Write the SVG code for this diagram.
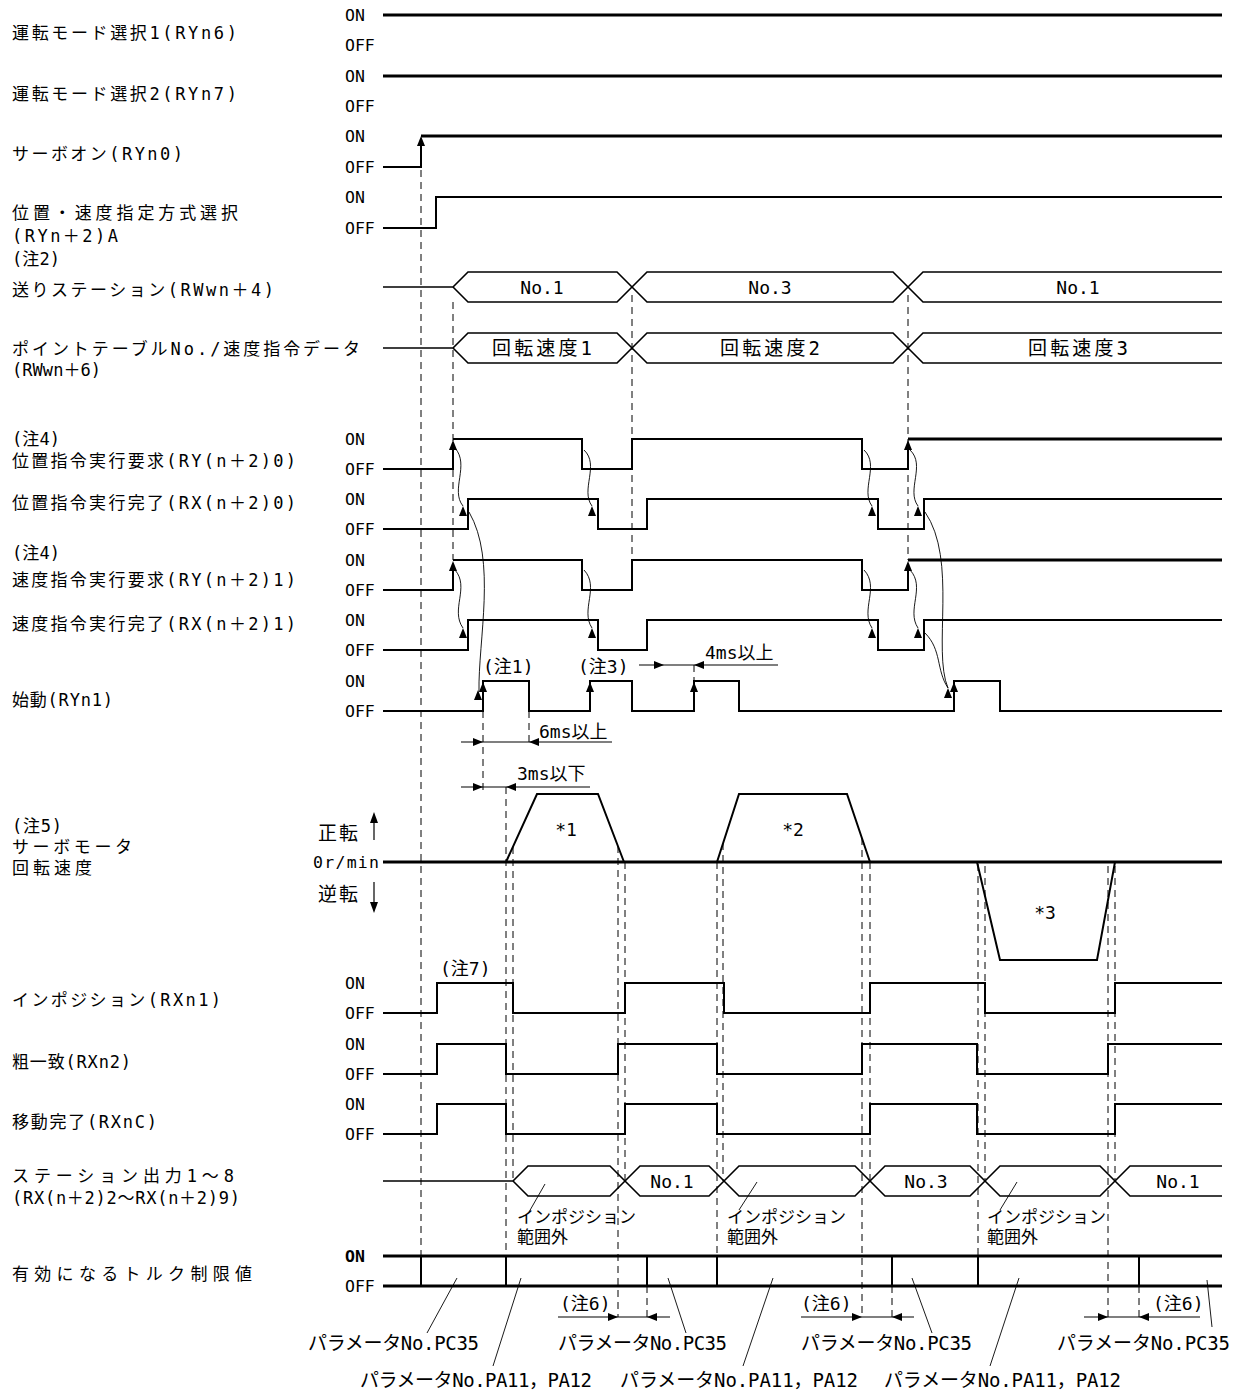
<svg xmlns="http://www.w3.org/2000/svg" width="1235" height="1392" viewBox="0 0 1235 1392">
<defs>
<style>
text { font-family: "DejaVu Sans Mono","Noto Sans CJK JP",monospace; fill:#000; dominant-baseline:central; }
.lbl { font-size:17px; }
.oo { font-size:16.5px; }
.mid { font-size:18px; }
.big { font-size:19px; }
.sm { font-size:17px; }
.w { fill:none; stroke:#000; stroke-width:2; }
.tk { fill:none; stroke:#000; stroke-width:3; }
.bus { fill:none; stroke:#000; stroke-width:1.6; }
.d { fill:none; stroke:#000; stroke-width:1; stroke-dasharray:7 5; }
.c { fill:none; stroke:#000; stroke-width:0.9; }
.dim { fill:none; stroke:#000; stroke-width:1.2; }
.ld { fill:none; stroke:#000; stroke-width:0.9; }
</style>
<path id="tri" d="M0,0 L4,10 L-4,10 Z"/>
<path id="ar" d="M0,0 L-10,-4 L-10,4 Z"/>
<path id="al" d="M0,0 L10,-4 L10,4 Z"/>
</defs>
<rect width="1235" height="1392" fill="#fff"/>

<g id="labels">
<text class="lbl" x="12" y="33" textLength="225">運転モード選択1(RYn6)</text>
<text class="lbl" x="12" y="94" textLength="225">運転モード選択2(RYn7)</text>
<text class="lbl" x="12" y="154" textLength="171">サーボオン(RYn0)</text>
<text class="lbl" x="12" y="213" textLength="226">位置・速度指定方式選択</text>
<text class="lbl" x="12" y="236" textLength="106">(RYn＋2)A</text>
<text class="lbl" x="12" y="259" textLength="48">(注2)</text>
<text class="lbl" x="12" y="290" textLength="262">送りステーション(RWwn＋4)</text>
<text class="lbl" x="12" y="349" textLength="348">ポイントテーブルNo./速度指令データ</text>
<text class="lbl" x="12" y="370" textLength="89">(RWwn＋6)</text>
<text class="lbl" x="12" y="439" textLength="48">(注4)</text>
<text class="lbl" x="12" y="461" textLength="284">位置指令実行要求(RY(n＋2)0)</text>
<text class="lbl" x="12" y="503" textLength="284">位置指令実行完了(RX(n＋2)0)</text>
<text class="lbl" x="12" y="553" textLength="48">(注4)</text>
<text class="lbl" x="12" y="580" textLength="284">速度指令実行要求(RY(n＋2)1)</text>
<text class="lbl" x="12" y="624" textLength="284">速度指令実行完了(RX(n＋2)1)</text>
<text class="lbl" x="12" y="700" textLength="101">始動(RYn1)</text>
<text class="lbl" x="12" y="826" textLength="50">(注5)</text>
<text class="lbl" x="12" y="847" textLength="120">サーボモータ</text>
<text class="lbl" x="12" y="868" textLength="80">回転速度</text>
<text class="lbl" x="12" y="1000" textLength="209">インポジション(RXn1)</text>
<text class="lbl" x="12" y="1062" textLength="119">粗一致(RXn2)</text>
<text class="lbl" x="12" y="1122" textLength="145">移動完了(RXnC)</text>
<text class="lbl" x="12" y="1176" textLength="222">ステーション出力1〜8</text>
<text class="lbl" x="12" y="1198" textLength="228">(RX(n＋2)2〜RX(n＋2)9)</text>
<text class="lbl" x="12" y="1274" textLength="240">有効になるトルク制限値</text>
</g>

<g id="onoff">
<text class="oo" x="345" y="15">ON</text><text class="oo" x="345" y="45">OFF</text>
<text class="oo" x="345" y="76">ON</text><text class="oo" x="345" y="106">OFF</text>
<text class="oo" x="345" y="136">ON</text><text class="oo" x="345" y="167">OFF</text>
<text class="oo" x="345" y="197">ON</text><text class="oo" x="345" y="228">OFF</text>
<text class="oo" x="345" y="439">ON</text><text class="oo" x="345" y="469">OFF</text>
<text class="oo" x="345" y="499">ON</text><text class="oo" x="345" y="529">OFF</text>
<text class="oo" x="345" y="560">ON</text><text class="oo" x="345" y="590">OFF</text>
<text class="oo" x="345" y="620">ON</text><text class="oo" x="345" y="650">OFF</text>
<text class="oo" x="345" y="681">ON</text><text class="oo" x="345" y="711">OFF</text>
<text class="oo" x="345" y="983">ON</text><text class="oo" x="345" y="1013">OFF</text>
<text class="oo" x="345" y="1044">ON</text><text class="oo" x="345" y="1074">OFF</text>
<text class="oo" x="345" y="1104">ON</text><text class="oo" x="345" y="1134">OFF</text>
<text class="oo" x="345" y="1256" font-weight="bold">ON</text><text class="oo" x="345" y="1286">OFF</text>
</g>

<g id="dashed">
<path class="d" d="M421,170 V1256"/>
<path class="d" d="M453,302 V560"/>
<path class="d" d="M632,295 V560"/>
<path class="d" d="M908,295 V560"/>
<path class="d" d="M483,711 V790"/>
<path class="d" d="M529,711 V742"/>
<path class="d" d="M506,787 V1256"/>
<path class="d" d="M513,847 V1181"/>
<path class="d" d="M618,846 V1317"/>
<path class="d" d="M625,862 V1181"/>
<path class="d" d="M717,862 V1256"/>
<path class="d" d="M723,843 V1181"/>
<path class="d" d="M862,838 V1317"/>
<path class="d" d="M870,862 V1181"/>
<path class="d" d="M978,864 V1256"/>
<path class="d" d="M985,866 V1181"/>
<path class="d" d="M1108,866 V1317"/>
<path class="d" d="M1115,866 V1181"/>
<path class="d" d="M647,1286 V1317"/>
<path class="d" d="M892,1286 V1317"/>
<path class="d" d="M1139,1286 V1317"/>
</g>

<g id="sig-mode1"><path class="tk" d="M383,15 H1222"/></g>
<g id="sig-mode2"><path class="tk" d="M383,76 H1222"/></g>
<g id="sig-servo"><path class="w" d="M383,167 H421 V140"/><path class="tk" d="M421,136 H1222"/><use href="#tri" x="421" y="136"/></g>
<g id="sig-possel"><path class="w" d="M383,228 H436 V197 H1222"/></g>

<g id="bus-station">
<path class="bus" d="M383,287 H453 L468,272 H617 L647,302 H893 L923,272 H1222"/>
<path class="bus" d="M453,287 L468,302 H617 L647,272 H893 L923,302 H1222"/>
<text class="mid" x="542" y="287" text-anchor="middle">No.1</text>
<text class="mid" x="770" y="287" text-anchor="middle">No.3</text>
<text class="mid" x="1078" y="287" text-anchor="middle">No.1</text>
</g>
<g id="bus-speed">
<path class="bus" d="M383,348 H453 L468,333 H617 L647,363 H893 L923,333 H1222"/>
<path class="bus" d="M453,348 L468,363 H617 L647,333 H893 L923,363 H1222"/>
<text class="big" x="542" y="348" text-anchor="middle" textLength="100">回転速度1</text>
<text class="big" x="770" y="348" text-anchor="middle" textLength="100">回転速度2</text>
<text class="big" x="1078" y="348" text-anchor="middle" textLength="100">回転速度3</text>
</g>

<g id="sig-posreq"><path class="w" d="M383,469 H453 V443 M453,439 H582 V469 H632 V439 H862 V469 H908 V443"/><path class="tk" d="M908,439 H1222"/><use href="#tri" x="453" y="440"/><use href="#tri" x="908" y="440"/></g>
<g id="sig-posdone"><path class="w" d="M383,529 H468 V499 H598 V529 H647 V499 H878 V529 H924 V499 H1222"/></g>
<g id="sig-spdreq"><path class="w" d="M383,590 H453 V564 M453,560 H582 V590 H632 V560 H862 V590 H908 V564"/><path class="tk" d="M908,560 H1222"/><use href="#tri" x="453" y="561"/><use href="#tri" x="908" y="561"/></g>
<g id="sig-spddone"><path class="w" d="M383,650 H468 V620 H598 V650 H647 V620 H878 V650 H924 V620 H1222"/></g>
<g id="sig-start"><path class="w" d="M383,711 H483 V681 H529 V711 H590 V681 H632 V711 H694 V681 H739 V711 H954 V681 H1000 V711 H1222"/>
<use href="#tri" x="483" y="682"/><use href="#tri" x="590" y="682"/><use href="#tri" x="694" y="682"/><use href="#tri" x="954" y="682"/>
<text class="mid" x="483" y="666">(注1)</text>
<text class="mid" x="578" y="666">(注3)</text>
</g>

<g id="sig-motor">
<path class="tk" d="M383,862 H1222"/>
<path class="w" d="M506,862 L537,794 H598 L624,862"/>
<path class="w" d="M717,862 L739,794 H847 L870,862"/>
<path class="w" d="M977,862 L1000,960 H1097 L1115,862"/>
<text class="mid" x="566" y="829" text-anchor="middle">*1</text>
<text class="mid" x="793" y="829" text-anchor="middle">*2</text>
<text class="mid" x="1045" y="912" text-anchor="middle">*3</text>
<text class="big" x="318" y="833" textLength="40">正転</text>
<text class="oo" x="313" y="862" textLength="66">0r/min</text>
<text class="big" x="318" y="894" textLength="40">逆転</text>
<path class="dim" d="M374,840 V820"/><path d="M374,812 L378,823 L370,823 Z"/>
<path class="dim" d="M374,882 V904"/><path d="M374,913 L378,902 L370,902 Z"/>
</g>

<g id="sig-inpos"><path class="w" d="M383,1013 H437 V983 H513 V1013 H625 V983 H724 V1013 H870 V983 H985 V1013 H1115 V983 H1222"/>
<text class="mid" x="440" y="968">(注7)</text></g>
<g id="sig-rough"><path class="w" d="M383,1074 H437 V1044 H506 V1074 H618 V1044 H717 V1074 H862 V1044 H977 V1074 H1108 V1044 H1222"/></g>
<g id="sig-movedone"><path class="w" d="M383,1134 H437 V1104 H506 V1134 H625 V1104 H717 V1134 H870 V1104 H977 V1134 H1115 V1104 H1222"/></g>

<g id="bus-out">
<path class="bus" d="M383,1181 H513 L528,1166 H610 L640,1196 H709 L739,1166 H855 L885,1196 H970 L1000,1166 H1100 L1130,1196 H1222"/>
<path class="bus" d="M513,1181 L528,1196 H610 L640,1166 H709 L739,1196 H855 L885,1166 H970 L1000,1196 H1100 L1130,1166 H1222"/>
<text class="mid" x="672" y="1181" text-anchor="middle">No.1</text>
<text class="mid" x="926" y="1181" text-anchor="middle">No.3</text>
<text class="mid" x="1178" y="1181" text-anchor="middle">No.1</text>
<text class="sm" x="517" y="1217">インポジション</text><text class="sm" x="517" y="1237">範囲外</text>
<text class="sm" x="727" y="1217">インポジション</text><text class="sm" x="727" y="1237">範囲外</text>
<text class="sm" x="987" y="1217">インポジション</text><text class="sm" x="987" y="1237">範囲外</text>
<path class="ld" d="M529,1212 L545,1184"/>
<path class="ld" d="M739,1210 L757,1182"/>
<path class="ld" d="M1000,1210 L1017,1182"/>
</g>

<g id="sig-torque">
<path class="tk" d="M383,1256 H1222 M383,1286 H1222"/>
<path class="w" d="M421,1256 V1286 M506,1256 V1286 M647,1256 V1286 M717,1256 V1286 M892,1256 V1286 M978,1256 V1286 M1139,1256 V1286"/>
<text class="mid" x="560" y="1303">(注6)</text>
<text class="mid" x="801" y="1303">(注6)</text>
<text class="mid" x="1153" y="1303">(注6)</text>
<text class="big" x="308" y="1343" textLength="171">パラメータNo.PC35</text>
<text class="big" x="558" y="1343" textLength="169">パラメータNo.PC35</text>
<text class="big" x="801" y="1343" textLength="171">パラメータNo.PC35</text>
<text class="big" x="1057" y="1343" textLength="173">パラメータNo.PC35</text>
<text class="big" x="360" y="1380" textLength="232">パラメータNo.PA11，PA12</text>
<text class="big" x="620" y="1380" textLength="238">パラメータNo.PA11，PA12</text>
<text class="big" x="884" y="1380" textLength="237">パラメータNo.PA11，PA12</text>
<path class="ld" d="M427,1333 L457,1278"/>
<path class="ld" d="M686,1333 L668,1278"/>
<path class="ld" d="M932,1333 L912,1278"/>
<path class="ld" d="M1212,1327 L1207,1280"/>
<path class="ld" d="M493,1366 L521,1278"/>
<path class="ld" d="M743,1366 L773,1278"/>
<path class="ld" d="M990,1366 L1019,1278"/>
</g>

<g id="connectors">
<path class="c" d="M455,448 C470,465 450,490 463,506"/>
<path class="c" d="M455,570 C470,587 450,610 463,628"/>
<path class="c" d="M469,512 C497,560 478,640 479,692"/>
<path class="c" d="M584,450 C600,465 580,490 592,506"/>
<path class="c" d="M584,570 C600,587 580,610 592,628"/>
<path class="c" d="M864,450 C880,465 860,490 872,506"/>
<path class="c" d="M910,450 C926,465 906,490 918,506"/>
<path class="c" d="M864,570 C880,587 860,610 872,628"/>
<path class="c" d="M910,570 C926,587 906,610 918,628"/>
<path class="c" d="M925,512 C958,560 932,650 948,688"/>
<path class="c" d="M925,633 C942,650 936,670 948,688"/>
<use href="#tri" x="463" y="506"/><use href="#tri" x="463" y="628"/>
<use href="#tri" x="592" y="506"/><use href="#tri" x="592" y="628"/>
<use href="#tri" x="872" y="506"/><use href="#tri" x="872" y="628"/>
<use href="#tri" x="918" y="506"/><use href="#tri" x="918" y="628"/>
<use href="#tri" x="478" y="690"/><use href="#tri" x="948" y="688"/>

<path class="dim" d="M639,665 H778"/><use href="#ar" x="664" y="665"/><use href="#al" x="694" y="665"/>
<path class="d" d="M694,665 V681"/>
<text class="mid" x="705" y="652">4ms以上</text>
<path class="dim" d="M461,742 H612"/><use href="#ar" x="483" y="742"/><use href="#al" x="529" y="742"/>
<text class="mid" x="539" y="731">6ms以上</text>
<path class="dim" d="M461,787 H590"/><use href="#ar" x="483" y="787"/><use href="#al" x="506" y="787"/>
<text class="mid" x="517" y="773">3ms以下</text>
<path class="dim" d="M558,1317 H670"/><use href="#ar" x="618" y="1317"/><use href="#al" x="647" y="1317"/>
<path class="dim" d="M801,1317 H914"/><use href="#ar" x="862" y="1317"/><use href="#al" x="892" y="1317"/>
<path class="dim" d="M1084,1317 H1200"/><use href="#ar" x="1108" y="1317"/><use href="#al" x="1139" y="1317"/>
</g>
</svg>
